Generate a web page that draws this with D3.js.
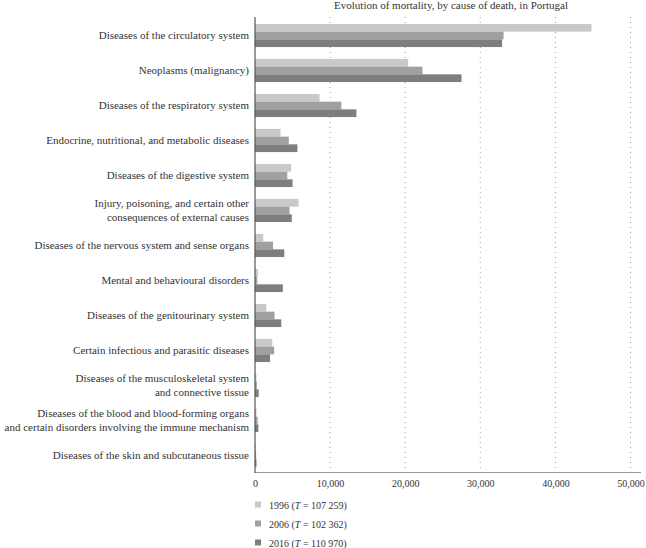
<!DOCTYPE html>
<html><head><meta charset="utf-8">
<script src="https://cdn.jsdelivr.net/npm/d3@7"></script>
<style>body{margin:0;background:#fff}svg{font-family:"Liberation Serif","DejaVu Serif",serif}</style>
</head><body><svg id="c" width="646" height="548"></svg>
<script>
const categories = [
  ["Diseases of the circulatory system"],
  ["Neoplasms (malignancy)"],
  ["Diseases of the respiratory system"],
  ["Endocrine, nutritional, and metabolic diseases"],
  ["Diseases of the digestive system"],
  ["Injury, poisoning, and certain other", "consequences of external causes"],
  ["Diseases of the nervous system and sense organs"],
  ["Mental and behavioural disorders"],
  ["Diseases of the genitourinary system"],
  ["Certain infectious and parasitic diseases"],
  ["Diseases of the musculoskeletal system", "and connective tissue"],
  ["Diseases of the blood and blood-forming organs", "and certain disorders involving the immune mechanism"],
  ["Diseases of the skin and subcutaneous tissue"]
];
const series = ["1996", "2006", "2016"];
const totals = ["107 259", "102 362", "110 970"];
const v1996 = [44800, 20400, 8600, 3400, 4800, 5800, 1100, 400, 1500, 2300, 200, 200, 100];
const v2006 = [33100, 22300, 11500, 4500, 4300, 4600, 2400, 300, 2600, 2550, 250, 350, 150];
const v2016 = [32900, 27500, 13500, 5650, 5000, 4900, 3900, 3700, 3500, 2000, 500, 450, 200];
const xTicks = [0, 10000, 20000, 30000, 40000, 50000];
const title = "Evolution of mortality, by cause of death, in Portugal";
const colors = ["#c9c9c9", "#a0a0a0", "#7e7e7e"];

const values = [v1996, v2006, v2016];
const svg = d3.select("#c");
const x = d3.scaleLinear().domain([0, 50000]).range([255, 630.5]);
const y = d3.scaleBand().domain(d3.range(categories.length)).range([18, 473]).paddingInner(0.34).paddingOuter(0.17);
const ys = d3.scaleBand().domain(series).range([0, y.bandwidth()]);

// gridlines
svg.append("g").selectAll("line").data(xTicks.slice(1)).join("line")
  .attr("x1", d => x(d)).attr("x2", d => x(d)).attr("y1", 17).attr("y2", 471)
  .attr("stroke", "#8a8a8a").attr("stroke-width", 0.8).attr("stroke-dasharray", "1,4");

// bars
const g = svg.append("g");
series.forEach((s, si) => {
  g.selectAll(".b" + si).data(values[si]).join("rect")
    .attr("x", x(0)).attr("y", (d, i) => y(i) + ys(s))
    .attr("width", d => x(d) - x(0)).attr("height", ys.bandwidth())
    .attr("fill", colors[si]);
});

// axes lines
svg.append("line").attr("x1", x(0)).attr("x2", 641).attr("y1", 472.5).attr("y2", 472.5).attr("stroke", "#9a9a9a").attr("stroke-width", 1);
svg.append("line").attr("x1", x(0)).attr("x2", x(0)).attr("y1", 17).attr("y2", 473).attr("stroke", "#555").attr("stroke-width", 1.2);

// x tick labels
const xa = d3.axisBottom(x).tickValues(xTicks).tickSize(0).tickPadding(0).tickFormat(d3.format(","));
const xg = svg.append("g").attr("transform", "translate(0,480)").call(xa);
xg.select(".domain").remove();
xg.selectAll("text").attr("font-size", 10).attr("fill", "#333").attr("font-family", "Liberation Serif, serif").attr("dy", "0.71em");

// category labels
const lab = svg.append("g").selectAll("text").data(categories).join("text")
  .attr("text-anchor", "end").attr("font-size", 11).attr("fill", "#333")
  .attr("x", 249)
  .attr("y", (d, i) => y(i) + y.bandwidth() / 2 - (d.length - 1) * 7);
lab.selectAll("tspan").data(d => d).join("tspan")
  .attr("x", 249).attr("dy", (d, j) => j === 0 ? "0.35em" : "14").text(d => d);

// title
svg.append("text").attr("x", 451).attr("y", 9).attr("text-anchor", "middle")
  .attr("font-size", 11).attr("fill", "#333").text(title);

// legend
const lg = svg.append("g").selectAll("g").data(series).join("g")
  .attr("transform", (d, i) => `translate(255,${505 + i * 19})`);
lg.append("rect").attr("x", 0).attr("y", -3.5).attr("width", 6).attr("height", 6).attr("fill", (d, i) => colors[i]);
const lt = lg.append("text").attr("x", 14).attr("dy", "0.35em").attr("font-size", 10).attr("fill", "#333");
lt.append("tspan").text(d => d + " (");
lt.append("tspan").attr("font-style", "italic").text("T");
lt.append("tspan").text((d, i) => " = " + totals[i] + ")");
</script></body></html>
